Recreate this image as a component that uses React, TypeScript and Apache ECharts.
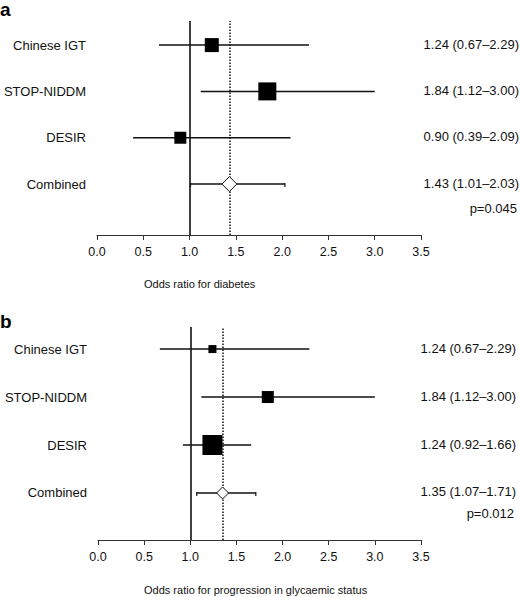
import React, { useEffect, useRef } from "react";
import * as echarts from "echarts";

const studies = ["Chinese IGT", "STOP-NIDDM", "DESIR", "Combined"];
const rowPositions = [4, 3, 2, 1];

const diabetesOR = [1.24, 1.84, 0.9, 1.43];
const diabetesLo = [0.67, 1.12, 0.39, 1.01];
const diabetesHi = [2.29, 3.0, 2.09, 2.03];
const diabetesP = "p=0.045";
const diabetesTitle = "Odds ratio for diabetes";

const progressionOR = [1.24, 1.84, 1.24, 1.35];
const progressionLo = [0.67, 1.12, 0.92, 1.07];
const progressionHi = [2.29, 3.0, 1.66, 1.71];
const progressionP = "p=0.012";
const progressionTitle = "Odds ratio for progression in glycaemic status";

// marker sizes (px) reflecting study weight
const diabetesMarker = [14, 18, 12, 15];
const progressionMarker = [8, 12, 20, 12];

const FONT = '"Liberation Sans", Arial, Helvetica, sans-serif';
const INK = "#111";

function fmt(or: number, lo: number, hi: number) {
  return `${or.toFixed(2)} (${lo.toFixed(2)}–${hi.toFixed(2)})`;
}

function buildRefLines(idx: number, ors: number[]) {
  const combinedIdx = studies.length - 1;
  return {
    type: "line",
    xAxisIndex: idx,
    yAxisIndex: idx,
    z: 1,
    data: [],
    silent: true,
    markLine: {
      silent: true,
      symbol: "none",
      label: { show: false },
      animation: false,
      z: 1,
      data: [
        { xAxis: 1, lineStyle: { type: "solid", color: INK, width: 1.6 } },
        { xAxis: ors[combinedIdx], lineStyle: { type: "dotted", color: INK, width: 1.5 } },
      ],
    },
  };
}

function buildSeries(
  idx: number,
  ors: number[],
  los: number[],
  his: number[],
  sizes: number[],
  rightX: number
) {
  const data = studies.map((_, i) => [rowPositions[i], ors[i], los[i], his[i], i]);
  const combinedIdx = studies.length - 1;
  return {
    type: "custom",
    xAxisIndex: idx,
    yAxisIndex: idx,
    z: 5,
    clip: false,
    encode: { x: [1, 2, 3], y: 0 },
    data,
    renderItem: (params: any, api: any) => {
      const row = api.value(0);
      const est = api.value(1);
      const lo = api.value(2);
      const hi = api.value(3);
      const i = api.value(4);
      const c = api.coord([est, row]);
      const l = api.coord([lo, row]);
      const h = api.coord([hi, row]);
      const z = api.coord([0, row]);
      const s = sizes[i];
      const children: any[] = [
        {
          type: "line",
          shape: { x1: l[0], y1: l[1], x2: h[0], y2: h[1] },
          style: { stroke: INK, lineWidth: 1.5 },
        },
      ];
      if (i === combinedIdx) {
        children.push({
          type: "line",
          shape: { x1: l[0], y1: l[1] - 1, x2: l[0], y2: l[1] + 3 },
          style: { stroke: INK, lineWidth: 1.2 },
        });
        children.push({
          type: "line",
          shape: { x1: h[0], y1: h[1] - 1, x2: h[0], y2: h[1] + 3 },
          style: { stroke: INK, lineWidth: 1.2 },
        });
        const r = s / 2;
        children.push({
          type: "polygon",
          shape: {
            points: [
              [c[0], c[1] - r],
              [c[0] + r, c[1]],
              [c[0], c[1] + r],
              [c[0] - r, c[1]],
            ],
          },
          style: { fill: "#fff", stroke: INK, lineWidth: 1 },
        });
      } else {
        children.push({
          type: "rect",
          shape: { x: c[0] - s / 2, y: c[1] - s / 2, width: s, height: s },
          style: { fill: "#000" },
        });
      }
      children.push({
        type: "text",
        style: {
          text: studies[i],
          x: z[0] - 11,
          y: c[1],
          align: "right",
          verticalAlign: "middle",
          fontSize: 13,
          fontFamily: FONT,
          fill: INK,
        },
      });
      children.push({
        type: "text",
        style: {
          text: fmt(ors[i], los[i], his[i]),
          x: rightX,
          y: c[1] - 1,
          align: "right",
          verticalAlign: "middle",
          fontSize: 13,
          fontFamily: FONT,
          fill: INK,
        },
      });
      return { type: "group", children };
    },
  };
}

function makeXAxis(gridIndex: number) {
  return {
    type: "value",
    gridIndex,
    min: 0,
    max: 3.5,
    interval: 0.5,
    axisLine: { show: true, onZero: false, lineStyle: { color: "#333", width: 1 } },
    axisTick: { show: true, length: 5, lineStyle: { color: "#333" } },
    axisLabel: {
      fontSize: 12.5,
      fontFamily: FONT,
      color: INK,
      margin: 10,
      formatter: (v: number) => v.toFixed(1),
    },
    splitLine: { show: false },
  };
}

export default function App() {
  const ref = useRef<HTMLDivElement>(null);
  useEffect(() => {
    if (!ref.current) return;
    const chart = echarts.init(ref.current, null, { renderer: "svg" });
    const option: any = {
      animation: false,
      backgroundColor: "#fff",
      grid: [
        { left: 97, top: 21, width: 324, height: 214 },
        { left: 98, top: 327, width: 323, height: 213 },
      ],
      xAxis: [makeXAxis(0), makeXAxis(1)],
      yAxis: [
        { type: "value", gridIndex: 0, min: -0.1, max: 4.52, show: false },
        { type: "value", gridIndex: 1, min: 0.02, max: 4.46, show: false },
      ],
      series: [
        buildRefLines(0, diabetesOR),
        buildRefLines(1, progressionOR),
        buildSeries(0, diabetesOR, diabetesLo, diabetesHi, diabetesMarker, 519),
        buildSeries(1, progressionOR, progressionLo, progressionHi, progressionMarker, 516),
      ],
      graphic: [
        {
          type: "text",
          left: 0,
          top: 0,
          style: { text: "a", fontSize: 19, fontWeight: "bold", fontFamily: FONT, fill: "#000" },
        },
        {
          type: "text",
          left: 0,
          top: 312,
          style: { text: "b", fontSize: 19, fontWeight: "bold", fontFamily: FONT, fill: "#000" },
        },
        {
          type: "text",
          x: 517,
          y: 208,
          style: {
            text: diabetesP,
            align: "right",
            verticalAlign: "middle",
            fontSize: 13,
            fontFamily: FONT,
            fill: INK,
          },
        },
        {
          type: "text",
          x: 514,
          y: 513,
          style: {
            text: progressionP,
            align: "right",
            verticalAlign: "middle",
            fontSize: 13,
            fontFamily: FONT,
            fill: INK,
          },
        },
        {
          type: "text",
          x: 144,
          y: 284,
          style: {
            text: diabetesTitle,
            align: "left",
            verticalAlign: "middle",
            fontSize: 11,
            fontFamily: FONT,
            fill: INK,
          },
        },
        {
          type: "text",
          x: 144,
          y: 590,
          style: {
            text: progressionTitle,
            align: "left",
            verticalAlign: "middle",
            fontSize: 11,
            fontFamily: FONT,
            fill: INK,
          },
        },
      ],
    };
    chart.setOption(option);
    return () => chart.dispose();
  }, []);
  return (
    <div
      ref={ref}
      style={{ position: "fixed", left: 0, top: 0, width: 520, height: 597, background: "#fff" }}
    />
  );
}
